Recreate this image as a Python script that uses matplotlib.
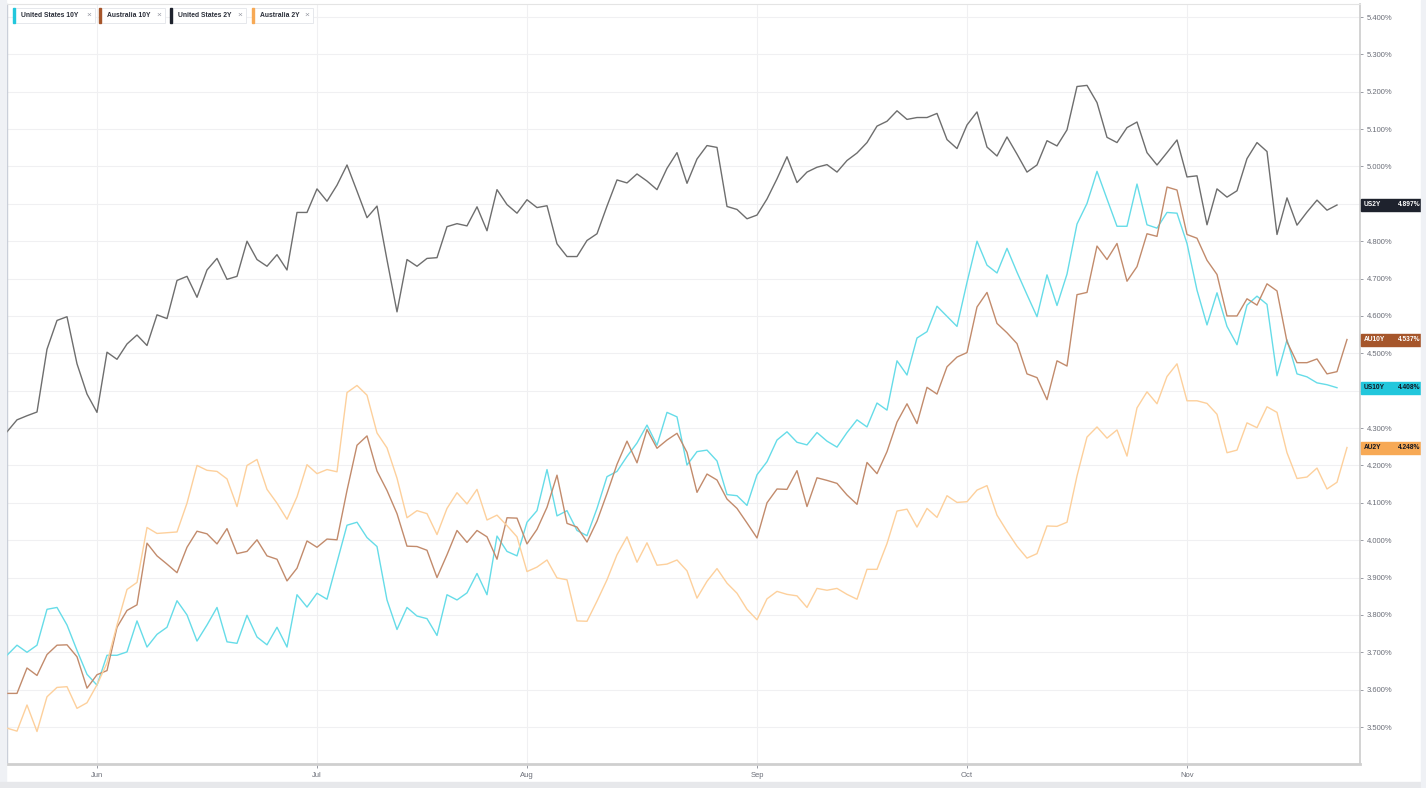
import numpy as np
import pandas as pd
import matplotlib
matplotlib.use('Agg')
import matplotlib.pyplot as plt
from matplotlib.patches import Rectangle

plt.rcParams['font.family'] = ['Liberation Sans', 'DejaVu Sans']

# trading days, 19 May 2023 .. 23 Nov 2023 (US series stop one day earlier)
dates = pd.bdate_range('2023-05-19', '2023-11-23')

names = ['United States 10Y', 'Australia 10Y', 'United States 2Y', 'Australia 2Y']
codes = ['US10Y', 'AU10Y', 'US2Y', 'AU2Y']

us10y = [3.692, 3.719, 3.700, 3.719, 3.815, 3.820, 3.773, 3.705, 3.641, 3.612,
         3.692, 3.692, 3.701, 3.784, 3.714, 3.748, 3.767, 3.838, 3.800, 3.730,
         3.773, 3.820, 3.728, 3.724, 3.799, 3.741, 3.720, 3.767, 3.714, 3.854,
         3.821, 3.858, 3.842, 3.941, 4.040, 4.048, 4.007, 3.983, 3.840,
         3.761, 3.820, 3.797, 3.790, 3.745, 3.854, 3.840, 3.859, 3.911, 3.854,
         4.011, 3.970, 3.958, 4.048, 4.079, 4.189, 4.065, 4.079, 4.026,
         4.012, 4.085, 4.170, 4.184, 4.224, 4.260, 4.308, 4.254, 4.342, 4.330,
         4.201, 4.237, 4.241, 4.212, 4.122, 4.119, 4.093, 4.175, 4.210,
         4.268, 4.290, 4.262, 4.255, 4.288, 4.265, 4.249, 4.288, 4.322, 4.303,
         4.367, 4.348, 4.480, 4.442, 4.541, 4.558, 4.626, 4.599, 4.572,
         4.690, 4.800, 4.736, 4.715, 4.781, 4.717, 4.657, 4.598, 4.710, 4.628,
         4.712, 4.846, 4.901, 4.987, 4.913, 4.840, 4.840, 4.953, 4.844,
         4.835, 4.877, 4.875, 4.794, 4.669, 4.576, 4.662, 4.572, 4.523, 4.629,
         4.653, 4.631, 4.440, 4.536, 4.445, 4.437, 4.421, 4.416, 4.408]

au10y = [3.590, 3.590, 3.658, 3.638, 3.694, 3.719, 3.720, 3.688, 3.604, 3.640,
         3.651, 3.767, 3.812, 3.827, 3.992, 3.958, 3.936, 3.913, 3.981, 4.024,
         4.017, 3.990, 4.031, 3.964, 3.970, 4.001, 3.958, 3.949, 3.891, 3.925,
         3.998, 3.981, 4.003, 4.001, 4.133, 4.254, 4.279, 4.185, 4.133,
         4.071, 3.984, 3.983, 3.973, 3.900, 3.961, 4.026, 3.994, 4.026, 4.009,
         3.949, 4.060, 4.059, 3.990, 4.029, 4.088, 4.174, 4.045, 4.035,
         3.995, 4.051, 4.125, 4.203, 4.265, 4.207, 4.296, 4.246, 4.268, 4.286,
         4.235, 4.128, 4.177, 4.161, 4.110, 4.085, 4.046, 4.006, 4.100,
         4.137, 4.136, 4.186, 4.090, 4.167, 4.160, 4.152, 4.121, 4.096, 4.208,
         4.178, 4.237, 4.316, 4.365, 4.312, 4.409, 4.391, 4.464, 4.490,
         4.502, 4.624, 4.663, 4.580, 4.555, 4.526, 4.445, 4.435, 4.376, 4.480,
         4.466, 4.657, 4.663, 4.787, 4.751, 4.794, 4.693, 4.732, 4.820,
         4.813, 4.945, 4.937, 4.818, 4.808, 4.749, 4.711, 4.600, 4.600, 4.646,
         4.629, 4.686, 4.667, 4.531, 4.475, 4.475, 4.485, 4.445, 4.451, 4.537]

us2y = [4.290, 4.322, 4.333, 4.343, 4.511, 4.588, 4.598, 4.472, 4.391, 4.342,
        4.503, 4.484, 4.525, 4.549, 4.521, 4.603, 4.593, 4.695, 4.706, 4.650,
        4.723, 4.754, 4.698, 4.706, 4.800, 4.751, 4.733, 4.764, 4.723, 4.877,
        4.877, 4.940, 4.907, 4.950, 5.004, 4.934, 4.863, 4.894, 4.750,
        4.611, 4.751, 4.733, 4.754, 4.756, 4.839, 4.847, 4.841, 4.892, 4.828,
        4.938, 4.898, 4.875, 4.911, 4.890, 4.895, 4.793, 4.759, 4.759,
        4.802, 4.820, 4.894, 4.964, 4.956, 4.980, 4.961, 4.938, 4.995, 5.037,
        4.955, 5.020, 5.056, 5.051, 4.893, 4.885, 4.860, 4.870, 4.913,
        4.967, 5.026, 4.957, 4.985, 4.998, 5.005, 4.985, 5.016, 5.036, 5.064,
        5.108, 5.121, 5.149, 5.126, 5.131, 5.131, 5.142, 5.072, 5.048,
        5.111, 5.146, 5.052, 5.028, 5.079, 5.033, 4.985, 5.004, 5.069, 5.055,
        5.098, 5.214, 5.217, 5.171, 5.078, 5.064, 5.104, 5.119, 5.037,
        5.004, 5.037, 5.071, 4.972, 4.975, 4.844, 4.940, 4.918, 4.935, 5.021,
        5.064, 5.040, 4.818, 4.916, 4.843, 4.878, 4.910, 4.883, 4.897]

au2y = [3.497, 3.489, 3.559, 3.488, 3.581, 3.606, 3.608, 3.550, 3.565, 3.613,
        3.671, 3.773, 3.868, 3.887, 4.034, 4.018, 4.020, 4.022, 4.099, 4.200,
        4.187, 4.184, 4.164, 4.090, 4.200, 4.216, 4.136, 4.099, 4.056, 4.116,
        4.202, 4.178, 4.189, 4.183, 4.395, 4.414, 4.388, 4.287, 4.247,
        4.166, 4.060, 4.079, 4.071, 4.015, 4.085, 4.127, 4.097, 4.136, 4.054,
        4.067, 4.039, 4.009, 3.916, 3.928, 3.947, 3.899, 3.894, 3.784,
        3.783, 3.837, 3.894, 3.961, 4.009, 3.941, 3.993, 3.933, 3.936, 3.947,
        3.918, 3.845, 3.890, 3.924, 3.885, 3.858, 3.815, 3.787, 3.843,
        3.863, 3.855, 3.851, 3.820, 3.871, 3.866, 3.871, 3.855, 3.842, 3.922,
        3.922, 3.991, 4.078, 4.083, 4.035, 4.085, 4.061, 4.119, 4.101,
        4.103, 4.134, 4.146, 4.067, 4.024, 3.984, 3.952, 3.964, 4.038, 4.037,
        4.048, 4.172, 4.276, 4.303, 4.273, 4.295, 4.225, 4.354, 4.397,
        4.365, 4.438, 4.472, 4.373, 4.373, 4.366, 4.337, 4.234, 4.241, 4.314,
        4.301, 4.357, 4.342, 4.234, 4.165, 4.169, 4.193, 4.137, 4.155, 4.248]

series = [us10y, au10y, us2y, au2y]
base_colors = ['#22c7dc', '#a6562b', '#1e222d', '#f7a955']
line_colors = ['#66dce8', '#c28b6c', '#6e6e6e', '#fdd09c']
text_colors = ['#131722', 'white', 'white', '#131722']

W, H = 1426, 788
fig = plt.figure(figsize=(W / 100, H / 100), dpi=100)

# light frame around the chart
fig.patches.append(Rectangle((0, 0), 6 / W, 1, transform=fig.transFigure,
                             color='#eff1f5', zorder=0))
fig.patches.append(Rectangle((0, 0), 1, 6 / H, transform=fig.transFigure,
                             color='#e7e8eb', zorder=0))
fig.patches.append(Rectangle((1421 / W, 0), 5 / W, 1, transform=fig.transFigure,
                             color='#eff1f5', zorder=0))

ax = fig.add_axes([7 / W, 1 - 764 / H, 1353 / W, 760 / H])
px_per_unit = 373.7
ax.set_ylim(5.4 - (764 - 17) / px_per_unit, 5.4 + (17 - 4) / px_per_unit)
ax.set_xlim(0, 135.3)

for s, c in zip(series, line_colors):
    ax.plot(np.arange(len(s)), s, color=c, lw=1.0, zorder=3)

# month ticks at first trading day of each month
months = dates.month
tick_idx = [i for i in range(1, len(dates)) if months[i] != months[i - 1]]
ax.set_xticks(tick_idx)
ax.set_xticklabels([dates[i].strftime('%b') for i in tick_idx])

# price scale; labels hidden where a last-value badge sits on top of them
last_vals = [s[-1] for s in series]
yt = np.round(np.arange(3.5, 5.41, 0.1), 1)
ax.set_yticks(yt)
ax.set_yticklabels(['' if min(abs(v - lv) for lv in last_vals) < 0.025
                    else '%.3f%%' % v for v in yt])
ax.yaxis.tick_right()

ax.grid(True, color='#f0f0f2', lw=0.8, zorder=0)
ax.tick_params(axis='y', length=2, width=0.6, color='#8a8d96', labelsize=5.5,
               labelcolor='#6b6e78', pad=3)
ax.tick_params(axis='x', length=3, width=0.6, color='#8a8d96', labelsize=5.5,
               labelcolor='#6b6e78', pad=3)

ax.spines['right'].set_color('#cccccc')
ax.spines['right'].set_linewidth(1.2)
ax.spines['bottom'].set_color('#cfcfcf')
ax.spines['bottom'].set_linewidth(2)
ax.spines['left'].set_color('#c2c7d3')
ax.spines['left'].set_linewidth(1)
ax.spines['top'].set_color('#e4e4e4')
ax.spines['top'].set_linewidth(0.8)

# last-value badges on the price scale
tr = ax.get_yaxis_transform()
bx0 = 1354 / 1353
bw = 61 / 1353
bh = 12 / px_per_unit
for v, code, bc, tc in zip(last_vals, codes, base_colors, text_colors):
    ax.add_patch(Rectangle((bx0, v - bh / 2), bw, bh, transform=tr, color=bc,
                           clip_on=False, zorder=5))
    ax.text(bx0 + 2.5 / 1353, v, code, transform=tr, ha='left', va='center',
            fontsize=4.8, fontweight='bold', color=tc, clip_on=False, zorder=6)
    ax.text(bx0 + bw - 1.5 / 1353, v, '%.3f%%' % v, transform=tr, ha='right',
            va='center', fontsize=4.8, fontweight='bold', color=tc,
            clip_on=False, zorder=6)

# legend chips
chip_x = [13, 99, 170, 252]
chip_w = [82, 66, 76, 61]
cy0, cy1 = 8, 23
for x0, w, name, bc in zip(chip_x, chip_w, names, base_colors):
    fig.patches.append(Rectangle((x0 / W, 1 - cy1 / H), w / W, (cy1 - cy0) / H,
                                 transform=fig.transFigure, facecolor='white',
                                 edgecolor='#e2e4e9', lw=0.6, zorder=10))
    fig.patches.append(Rectangle((x0 / W, 1 - cy1 / H), 1.6 / W, (cy1 - cy0) / H,
                                 transform=fig.transFigure, color=bc, zorder=11))
    fig.text((x0 + 8) / W, 1 - 15.5 / H, name, ha='left', va='center',
             fontsize=4.9, fontweight='bold', color='#2a2e39', zorder=12)
    fig.text((x0 + w - 6) / W, 1 - 15.5 / H, '×', ha='center', va='center',
             fontsize=6, color='#9598a1', zorder=12)

fig.savefig('out.png', dpi=100)
